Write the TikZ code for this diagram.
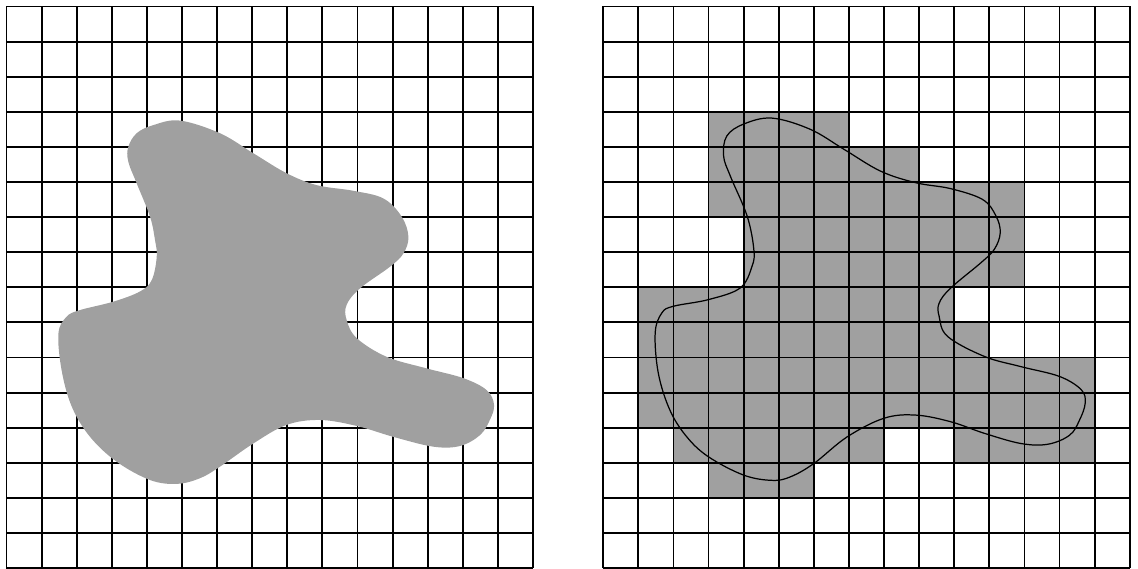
\documentclass[tikz,border=0pt]{standalone}
\definecolor{blobgray}{HTML}{A0A0A0}
\tikzset{
  gridline/.style={line width=1.5pt, black},
  cellfill/.style={fill=blobgray},
  outline/.style={line width=1pt, black},
}
\def\blobpath{plot[smooth cycle, tension=0.6] coordinates {
(4.81,12.82) (5.90,12.50) (6.86,11.93) (7.90,11.31) (8.90,10.98) (9.90,10.81)
(10.81,10.50) (11.19,10.03) (11.31,9.55) (11.14,9.08) (10.76,8.70) (9.90,7.98)
(9.57,7.55) (9.57,7.17) (9.81,6.60) (10.86,6.03) (11.90,5.74) (13.0,5.46)
(13.62,5.08) (13.73,4.70) (13.57,4.22) (13.29,3.79) (12.67,3.53) (11.90,3.55)
(10.86,3.84) (9.90,4.17) (8.90,4.36) (8.0,4.27) (6.95,3.74) (6.0,2.98)
(5.33,2.60) (4.81,2.50) (4.0,2.65) (3.0,3.17) (2.38,3.74) (1.90,4.50)
(1.57,5.55) (1.48,6.70) (1.67,7.27) (2.0,7.46) (3.0,7.65) (3.90,7.98)
(4.24,8.60) (4.29,9.08) (4.10,10.03) (3.62,11.17) (3.43,11.74) (3.52,12.31)
(4.0,12.65)}}
\def\leftblob{plot[smooth cycle, tension=0.6] coordinates {
(4.94,12.75) (6.08,12.39) (7.03,11.82) (7.98,11.25) (8.84,10.91) (9.88,10.75)
(10.74,10.53) (11.26,10.01) (11.45,9.44) (11.31,8.97) (10.93,8.59) (10.07,7.97)
(9.69,7.50) (9.69,7.07) (9.98,6.55) (10.83,6.02) (11.97,5.69) (13.02,5.41)
(13.68,5.07) (13.89,4.65) (13.77,4.22) (13.49,3.79) (12.92,3.48) (12.16,3.46)
(11.02,3.74) (9.98,4.05) (8.93,4.22) (7.98,4.08) (7.03,3.55) (6.08,2.89)
(5.51,2.56) (4.85,2.40) (4.09,2.51) (3.14,3.03) (2.38,3.74) (1.86,4.60)
(1.57,5.64) (1.48,6.69) (1.71,7.16) (2.09,7.35) (3.04,7.59) (3.80,7.88)
(4.14,8.21) (4.28,8.87) (4.23,9.35) (4.09,10.01) (3.71,10.96) (3.47,11.58)
(3.47,12.00) (3.71,12.39) (4.18,12.62)}}
\begin{document}
\begin{tikzpicture}
\useasboundingbox (-0.185,0) rectangle (32.235,16.185);
% left panel
\draw[gridline] (0,0) grid (15,16);
\fill[blobgray] \leftblob;
% right panel
\foreach \r/\a/\b in {3/3/6,4/3/8,5/3/11,6/4/11,7/4/11,8/1/9,9/1/10,10/1/13,11/1/13,12/2/7,12/10/13,13/3/5}{
  \fill[cellfill] ({17+\a},{15-\r}) rectangle ({18+\b},{16-\r});
}
\draw[gridline] (17,0) grid (32,16);
\begin{scope}[xshift=17cm]
\draw[outline] \blobpath;
\end{scope}
\end{tikzpicture}
\end{document}
